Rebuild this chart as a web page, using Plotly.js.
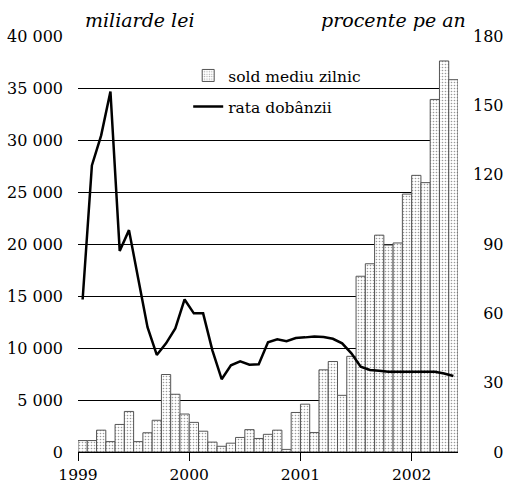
<!DOCTYPE html>
<html>
<head>
<meta charset="utf-8">
<script src="https://cdn.plot.ly/plotly-3.0.1.min.js"></script>
<style>html,body{margin:0;padding:0;background:#fff;}#chart{width:506px;height:495px;}</style>
</head>
<body>
<div id="chart"></div>
<script>
// Months Jan 1999 .. May 2002
const months = [
 "1999-01","1999-02","1999-03","1999-04","1999-05","1999-06","1999-07","1999-08","1999-09","1999-10","1999-11","1999-12",
 "2000-01","2000-02","2000-03","2000-04","2000-05","2000-06","2000-07","2000-08","2000-09","2000-10","2000-11","2000-12",
 "2001-01","2001-02","2001-03","2001-04","2001-05","2001-06","2001-07","2001-08","2001-09","2001-10","2001-11","2001-12",
 "2002-01","2002-02","2002-03","2002-04","2002-05"
];
// sold mediu zilnic (miliarde lei)
const soldMediu = [
 1100,1100,2100,1000,2650,3900,1000,1850,3050,7450,5550,3650,
 2850,2000,950,550,850,1400,2150,1300,1700,2100,250,3800,
 4600,1870,7900,8700,5450,9200,16900,18100,20850,19900,20100,24800,
 26600,25900,33900,37600,35800
];
// rata dobânzii (procente pe an)
const rataDobanzii = [
 66,124,137,156,87,96,75,54,42,47,53.5,66,
 60,60,44,31.5,37.5,39.2,37.8,38,47.5,48.8,47.9,49.3,
 49.6,50,49.8,49,47,42.7,36.9,35.5,35.2,34.7,34.7,34.7,
 34.7,34.7,34.7,34,32.9
];
const yearLabels = ["1999","2000","2001","2002"];
const leftTicks = [0,5000,10000,15000,20000,25000,30000,35000,40000];
const leftTickText = ["0","5 000","10 000","15 000","20 000","25 000","30 000","35 000","40 000"];
const rightTicks = [0,30,60,90,120,150,180];
const rightTickText = ["\u2007\u20070","\u200730","\u200760","\u200790","120","150","180"];

const xIdx = months.map((m,i)=>i);
const yearTickPos = yearLabels.map(y => months.indexOf(y+"-01") - 0.5);

const font = "DejaVu Serif";

const traces = [
 {
  type: "bar", name: "sold mediu zilnic", x: xIdx, y: soldMediu, customdata: months,
  legendgroup: "a",
  marker: {color: "#ffffff", line: {color: "#555555", width: 1},
           pattern: {shape: ".", fgcolor: "#9a9a9a", bgcolor: "#ffffff", size: 3, solidity: 0.22}},
  hovertemplate: "%{customdata}: %{y}<extra></extra>"
 },
 {
  type: "scatter", mode: "lines", name: "rata dobânzii", x: xIdx, y: rataDobanzii, customdata: months,
  yaxis: "y2", legendgroup: "b",
  line: {color: "#000000", width: 2.5},
  hovertemplate: "%{customdata}: %{y}<extra></extra>"
 }
];

const layout = {
 width: 506, height: 495,
 margin: {l: 78, r: 48, t: 36, b: 43, pad: 0},
 paper_bgcolor: "#ffffff", plot_bgcolor: "#ffffff",
 font: {family: font, size: 16, color: "#000"},
 bargap: 0,
 showlegend: true,
 legend: {x: 0.29, y: 0.945, xanchor: "left", yanchor: "top", bgcolor: "rgba(0,0,0,0)",
          borderwidth: 0, traceorder: "grouped", tracegroupgap: 8,
          font: {family: font, size: 15.5, color: "#000"}},
 xaxis: {
  range: [-0.5, months.length - 0.5], tickmode: "array", tickvals: yearTickPos, ticktext: yearLabels,
  ticks: "outside", ticklen: 8, tickcolor: "#000", tickwidth: 1,
  showline: true, linecolor: "#000", linewidth: 1, showgrid: false, zeroline: false,
  tickfont: {family: font, size: 15.5}
 },
 yaxis: {
  range: [0, 40000], tickmode: "array", tickvals: leftTicks, ticktext: leftTickText,
  showgrid: true, gridcolor: "#000", gridwidth: 1, zeroline: false, showline: false,
  ticks: "", ticklabelstandoff: 14, tickfont: {family: font, size: 16}
 },
 yaxis2: {
  overlaying: "y", side: "right", range: [0, 180], tickmode: "array", tickvals: rightTicks, ticktext: rightTickText,
  showgrid: false, zeroline: false, showline: false, ticks: "", ticklabelstandoff: 14,
  tickfont: {family: font, size: 16}
 },
 shapes: [
  {type: "rect", layer: "between", xref: "paper", yref: "paper", x0: 0.121, x1: 0.897, y0: 0.78, y1: 0.93,
   fillcolor: "#ffffff", line: {width: 0}}
 ],
 annotations: [
  {text: "<i>miliarde lei</i>", xref: "paper", yref: "paper", x: 0.013, y: 1.0, xanchor: "left", yanchor: "bottom",
   yshift: 3, showarrow: false, font: {family: font, size: 19}},
  {text: "<i>procente pe an</i>", xref: "paper", yref: "paper", x: 1.026, y: 1.0, xanchor: "right", yanchor: "bottom",
   yshift: 3, showarrow: false, font: {family: font, size: 19}}
 ]
};

Plotly.newPlot("chart", traces, layout, {displayModeBar: false, staticPlot: true});
</script>
</body>
</html>
